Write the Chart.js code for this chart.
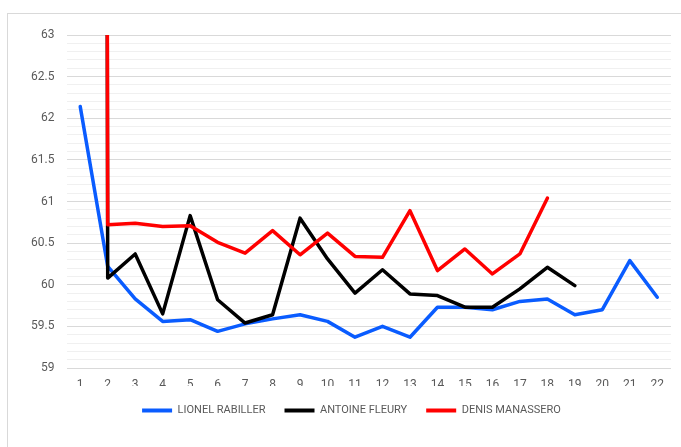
<!DOCTYPE html>
<html>
<head>
<meta charset="utf-8">
<script src="https://cdn.jsdelivr.net/npm/chart.js@4.4.1/dist/chart.umd.min.js"></script>
<style>
    body { margin: 0; background: #fff; }
    .frame { position: absolute; left: 7px; top: 13px; width: 700px; height: 460px; border: 1px solid #d9d9d9; }
    .wrap { position: absolute; left: 0; top: 0; width: 681px; height: 447px; }
</style>
</head>
<body>
<div class="frame"></div>
<div class="wrap"><canvas id="lapChart" width="681" height="447"></canvas></div>
<script>
// Data
const laps = ["1", "2", "3", "4", "5", "6", "7", "8", "9", "10", "11", "12", "13", "14", "15", "16", "17", "18", "19", "20", "21", "22"];
const rabiller = [62.14, 60.22, 59.83, 59.56, 59.58, 59.44, 59.53, 59.59, 59.64, 59.56, 59.37, 59.50, 59.37, 59.73, 59.73, 59.70, 59.80, 59.83, 59.64, 59.70, 60.29, 59.85];
// first lap is off the scale (standing start)
const fleury = [240, 60.08, 60.37, 59.65, 60.83, 59.82, 59.54, 59.64, 60.80, 60.31, 59.90, 60.18, 59.89, 59.87, 59.73, 59.73, 59.95, 60.21, 59.99];
const manassero = [240, 60.72, 60.74, 60.70, 60.71, 60.51, 60.38, 60.65, 60.36, 60.62, 60.34, 60.33, 60.89, 60.17, 60.43, 60.13, 60.37, 61.04];
const yMin = 59;
const yMax = 63;

const isMajor = v => Math.abs(v * 2 - Math.round(v * 2)) < 1e-6;

// Legend is centred under the plot area, not the whole canvas
const shiftLegend = {
    id: "shiftLegend",
    afterLayout(chart) {
        const lg = chart.legend;
        if (lg) {
            lg.left += 16;
            lg.right += 16;
        }
    }
};

const ctx = document.getElementById("lapChart");

new Chart(ctx, {
    type: "line",
    data: {
        labels: laps,
        datasets: [
            { label: "LIONEL RABILLER", data: rabiller, borderColor: "#0a5cff", backgroundColor: "#0a5cff", order: 3 },
            { label: "ANTOINE FLEURY", data: fleury, borderColor: "#000000", backgroundColor: "#000000", order: 2 },
            { label: "DENIS MANASSERO", data: manassero, borderColor: "#ff0000", backgroundColor: "#ff0000", order: 1 }
        ]
    },
    options: {
        responsive: false,
        animation: false,
        datasets: {
            line: {
                borderWidth: 3.5,
                pointRadius: 0,
                tension: 0,
                fill: false,
                borderCapStyle: "round",
                borderJoinStyle: "round",
                clip: 0
            }
        },
        layout: {
            padding: { left: 0, right: 10, top: 35, bottom: 21 }
        },
        plugins: {
            tooltip: { enabled: false },
            legend: {
                position: "bottom",
                labels: {
                    boxWidth: 30,
                    boxHeight: 4,
                    padding: 19,
                    color: "#595959",
                    font: { family: "Roboto", size: 11 },
                    generateLabels: chart => chart.data.datasets.map((ds, i) => ({
                        text: ds.label,
                        fillStyle: ds.borderColor,
                        strokeStyle: ds.borderColor,
                        lineWidth: 0,
                        datasetIndex: i,
                        fontColor: "#595959"
                    }))
                }
            }
        },
        scales: {
            x: {
                offset: true,
                grid: { display: false, drawTicks: false },
                border: { display: false },
                ticks: {
                    color: "#595959",
                    font: { family: "Roboto", size: 12 },
                    padding: 10,
                    maxRotation: 0,
                    autoSkip: false
                },
                afterFit: scale => { scale.height = 18; }
            },
            y: {
                min: yMin,
                max: yMax,
                grid: {
                    drawTicks: false,
                    color: c => isMajor(c.tick.value) ? "#d9d9d9" : "#f0f0f0",
                    lineWidth: 1
                },
                border: { display: false },
                ticks: {
                    stepSize: 0.1,
                    maxTicksLimit: 100,
                    autoSkip: false,
                    padding: 12,
                    color: "#595959",
                    font: { family: "Roboto", size: 12 },
                    callback: v => isMajor(v) ? String(Math.round(v * 10) / 10) : ""
                },
                afterFit: scale => { scale.width = 66.5; }
            }
        }
    },
    plugins: [shiftLegend]
});
</script>
</body>
</html>
